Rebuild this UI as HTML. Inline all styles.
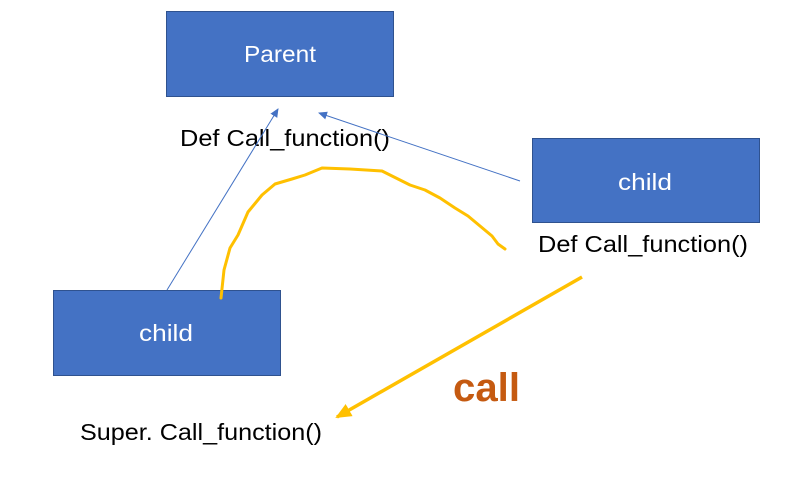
<!DOCTYPE html>
<html><head><meta charset="utf-8"><style>
html,body{margin:0;padding:0;background:#fff;width:803px;height:478px;overflow:hidden}
svg{display:block}
text{font-family:"Liberation Sans","Noto Sans CJK KR",sans-serif}
</style></head><body>
<svg width="803" height="478" viewBox="0 0 803 478">
<defs>
<marker id="ab" markerWidth="10" markerHeight="10" refX="8" refY="5" orient="auto" markerUnits="userSpaceOnUse">
<path d="M0,1 L9,5 L0,9 z" fill="#4472C4"/></marker>
<marker id="ay" markerWidth="18" markerHeight="18" refX="14" refY="8" orient="auto" markerUnits="userSpaceOnUse">
<path d="M0,1 L16,8 L0,15 z" fill="#FFC000"/></marker>
</defs>
<rect x="166.5" y="11.5" width="227" height="85" fill="#4472C4" stroke="#2F528F" stroke-width="1"/>
<rect x="532.5" y="138.5" width="227" height="84" fill="#4472C4" stroke="#2F528F" stroke-width="1"/>
<rect x="53.5" y="290.5" width="227" height="85" fill="#4472C4" stroke="#2F528F" stroke-width="1"/>
<text x="244" y="62" font-size="23" fill="#fff" textLength="72" lengthAdjust="spacingAndGlyphs">Parent</text>
<text x="618" y="190" font-size="23" fill="#fff" textLength="54" lengthAdjust="spacingAndGlyphs">child</text>
<text x="139" y="341" font-size="23" fill="#fff" textLength="54" lengthAdjust="spacingAndGlyphs">child</text>
<text x="180" y="146" font-size="23" fill="#000" textLength="210" lengthAdjust="spacingAndGlyphs">Def Call_function()</text>
<text x="538" y="252" font-size="23" fill="#000" textLength="210" lengthAdjust="spacingAndGlyphs">Def Call_function()</text>
<text x="80" y="440" font-size="23" fill="#000" textLength="242" lengthAdjust="spacingAndGlyphs">Super. Call_function()</text>
<text x="453" y="401" font-size="40" font-weight="bold" fill="#C55A11" textLength="67" lengthAdjust="spacingAndGlyphs">call</text>
<line x1="167" y1="290" x2="278" y2="109" stroke="#4472C4" stroke-width="1" marker-end="url(#ab)"/>
<line x1="520" y1="181" x2="319" y2="113" stroke="#4472C4" stroke-width="1" marker-end="url(#ab)"/>
<line x1="582" y1="277" x2="337" y2="417" stroke="#FFC000" stroke-width="3.5" marker-end="url(#ay)"/>
<path d="M221,298 L224,270 L230,248 L238,235 L248,212 L262,195 L275,184 L292,179 L305,175 L322,168 L350,169 L382,171 L398,179 L410,185 L425,190 L440,198 L455,208 L468,216 L480,226 L492,236 L498,244 L505,249" fill="none" stroke="#FFC000" stroke-width="3" stroke-linejoin="round" stroke-linecap="round"/>
</svg>
</body></html>
